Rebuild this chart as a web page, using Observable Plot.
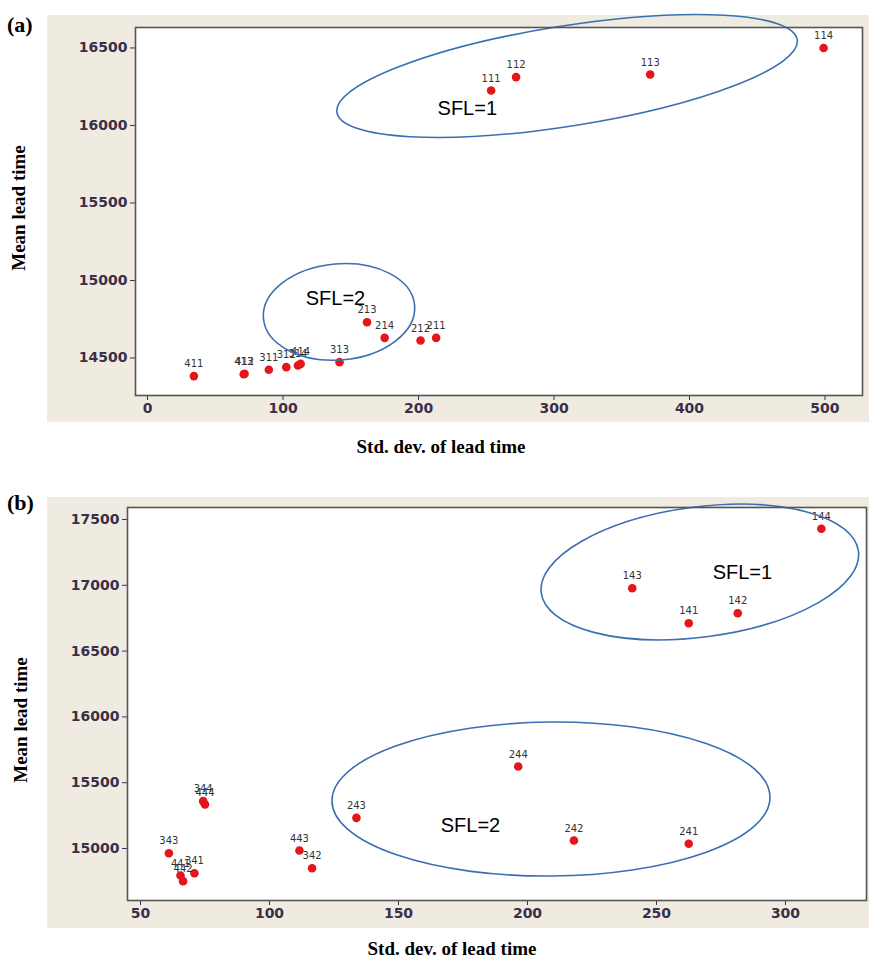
<!DOCTYPE html>
<html>
<head>
<meta charset="utf-8">
<script src="https://cdn.jsdelivr.net/npm/d3@7"></script>
<script src="https://cdn.jsdelivr.net/npm/@observablehq/plot@0.6"></script>
<style>
  html, body { margin: 0; padding: 0; background: #ffffff; }
  body { width: 869px; height: 962px; position: relative; overflow: hidden; }
  .panel { position: absolute; background: #efebe1; }
  .tag { position: absolute; font-family: "Liberation Serif", serif; font-weight: bold; font-size: 22px; color: #000; }
  .xt { position: absolute; font-family: "Liberation Serif", serif; font-weight: bold; font-size: 19px; color: #000; transform: translate(-50%, -50%); white-space: nowrap; }
  .yt { position: absolute; font-family: "Liberation Serif", serif; font-weight: bold; font-size: 19px; color: #000; transform: translate(-50%, -50%) rotate(-90deg); white-space: nowrap; }
</style>
</head>
<body>
<div class="tag" style="left:7px; top:12px;">(a)</div>
<div class="panel" id="pa" style="left:47px; top:15px; width:822px; height:407px;"></div>
<div class="yt" style="left:19px; top:208px;">Mean lead time</div>
<div class="xt" style="left:441px; top:447px;">Std. dev. of lead time</div>

<div class="tag" style="left:7px; top:490px;">(b)</div>
<div class="panel" id="pb" style="left:47px; top:497px; width:822px; height:431px;"></div>
<div class="yt" style="left:21px; top:720px;">Mean lead time</div>
<div class="xt" style="left:452px; top:949px;">Std. dev. of lead time</div>

<script>
// ---------- Panel (a) data ----------
const codesA = ["111","112","113","114","211","212","213","214","311","312","313","314","411","412","413","414"];
const sdA    = [253.6, 272, 371, 499, 213, 201.5, 162, 175, 89.5, 102.4, 141.7, 111, 34.2, 71.6, 71, 113];
const meanA  = [16226, 16312, 16329, 16500, 14630, 14613, 14731, 14630, 14424, 14441, 14473, 14452, 14383, 14398, 14395, 14462];
const xTicksA = [0, 100, 200, 300, 400, 500];
const yTicksA = [14500, 15000, 15500, 16000, 16500];

// group annotations (a)
const sflTextA = ["SFL=1", "SFL=2"];
const sflXA    = [236, 138.7];
const sflYA    = [16110, 14884];
const ellCxA   = [310, 141.7];
const ellCyA   = [16316, 14794];
const ellRxA   = [172, 56];
const ellRyA   = [323, 310];
const ellAngA  = [-9, -5];

// ---------- Panel (b) data ----------
const codesB = ["141","142","143","144","241","242","243","244","341","342","343","344","441","442","443","444"];
const sdB    = [262.5, 281.5, 240.6, 313.9, 262.5, 218, 133.7, 196.4, 70.9, 116.5, 61, 74.3, 65.5, 66.5, 111.6, 75];
const meanB  = [16712, 16788, 16978, 17429, 15036, 15061, 15233, 15623, 14812, 14850, 14964, 15360, 14795, 14752, 14985, 15335];
const xTicksB = [50, 100, 150, 200, 250, 300];
const yTicksB = [15000, 15500, 16000, 16500, 17000, 17500];

const sflTextB = ["SFL=1", "SFL=2"];
const sflXB    = [283.3, 177.9];
const sflYB    = [17097, 15175];
const ellCxB   = [267, 209.3];
const ellCyB   = [17097, 15372];
const ellRxB   = [62, 84.9];
const ellRyB   = [494, 585];
const ellAngB  = [-7.5, -0.5];

// ---------- helpers ----------
const rows = (codes, xs, ys) => codes.map((c, i) => ({code: c, sd: xs[i], mean: ys[i]}));
const ells = (cx, cy, rx, ry, ang) => cx.map((_, i) => ({x: cx[i], y: cy[i], rx: rx[i], ry: ry[i], angle: ang[i]}));
const labels = (t, xs, ys) => t.map((s, i) => ({text: s, x: xs[i], y: ys[i]}));

function ellipseMark(list) {
  return (index, scales) => {
    const g = d3.create("svg:g");
    for (const e of list) {
      const cx = scales.x(e.x), cy = scales.y(e.y);
      const rx = Math.abs(scales.x(e.x + e.rx) - cx);
      const ry = Math.abs(scales.y(e.y + e.ry) - cy);
      g.append("ellipse")
        .attr("cx", cx).attr("cy", cy).attr("rx", rx).attr("ry", ry)
        .attr("transform", `rotate(${e.angle} ${cx} ${cy})`)
        .attr("fill", "none").attr("stroke", "#3a6fb3").attr("stroke-width", 1.6);
    }
    return g.node();
  };
}

function panel({data, xDomain, yDomain, xTicks, yTicks, ellList, sfl, width, height, margins}) {
  return Plot.plot({
    width, height,
    marginLeft: margins[0], marginTop: margins[1], marginRight: margins[2], marginBottom: margins[3],
    style: {background: "transparent", fontFamily: "DejaVu Sans", fontSize: "14px", color: "#3a2f48", overflow: "visible"},
    x: {domain: xDomain, ticks: xTicks, tickFormat: "d", tickSize: 5, tickPadding: 3, label: null},
    y: {domain: yDomain, ticks: yTicks, tickFormat: "d", tickSize: 5, tickPadding: 3, label: null},
    marks: [
      Plot.frame({fill: "#ffffff", stroke: "none"}),
      Plot.dot(data, {x: "sd", y: "mean", r: 4.3, fill: "#e3161c", stroke: "none"}),
      Plot.text(data, {x: "sd", y: "mean", text: "code", dy: -12, fontSize: 10, fill: "#333333", fontFamily: "DejaVu Sans"}),
      ellipseMark(ellList),
      Plot.text(sfl, {x: "x", y: "y", text: "text", fontSize: 20, fill: "#000000", fontFamily: "Liberation Sans"}),
      Plot.frame({stroke: "#555555", strokeWidth: 1.6})
    ]
  });
}

function boldTicks(svg) {
  svg.querySelectorAll("g[aria-label='x-axis'] text, g[aria-label='y-axis'] text, g[aria-label='x-axis tick label'] text, g[aria-label='y-axis tick label'] text")
     .forEach(t => t.setAttribute("font-weight", "bold"));
  return svg;
}

document.getElementById("pa").append(boldTicks(panel({
  data: rows(codesA, sdA, meanA),
  xDomain: [-8.9, 527.7], yDomain: [14258, 16632],
  xTicks: xTicksA, yTicks: yTicksA,
  ellList: ells(ellCxA, ellCyA, ellRxA, ellRyA, ellAngA),
  sfl: labels(sflTextA, sflXA, sflYA),
  width: 822, height: 407, margins: [88, 12, 7, 27]
})));

document.getElementById("pb").append(boldTicks(panel({
  data: rows(codesB, sdB, meanB),
  xDomain: [44.96, 331.4], yDomain: [14605, 17591],
  xTicks: xTicksB, yTicks: yTicksB,
  ellList: ells(ellCxB, ellCyB, ellRxB, ellRyB, ellAngB),
  sfl: labels(sflTextB, sflXB, sflYB),
  width: 822, height: 431, margins: [80, 10, 3, 28]
})));
</script>
</body>
</html>
